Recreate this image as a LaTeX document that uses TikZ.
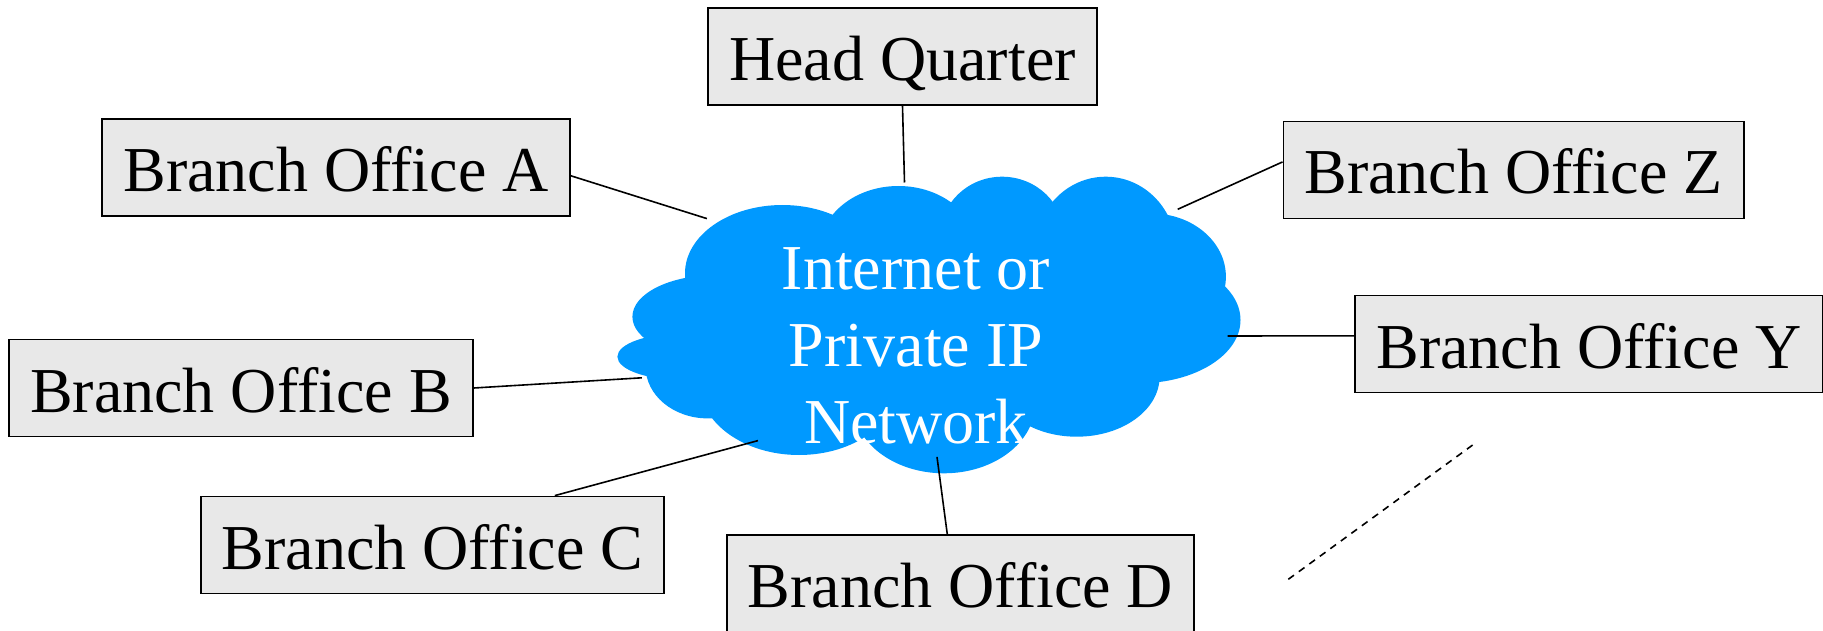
\documentclass[tikz,border=0pt]{standalone}
\usepackage{fontspec}
\setmainfont{Liberation Serif}
\usepackage{xcolor}
\usepackage{tikz}
\definecolor{cloudblue}{RGB}{0,153,255}
\definecolor{officegray}{RGB}{232,232,232}

\begin{document}
\begin{tikzpicture}[x=1pt, y=-1pt,
    office/.style={rectangle, draw=black, line width=1.8pt, fill=officegray, minimum height=97pt,
                   inner xsep=21pt, text height=48pt, text depth=0pt, font=\fontsize{64}{77}\selectfont},
    nettext/.style={text=white, align=center, font=\fontsize{64}{77}\selectfont},
    link/.style={line width=1.6pt}
]
\useasboundingbox (0,0) rectangle (1823,631);

% Cloud - built from overlapping puffs
\fill[cloudblue] (931.6,316.7) ellipse (207 and 100);
\fill[cloudblue] (782.4,273.3) ellipse (97.4 and 68.3);
\fill[cloudblue] (898.4,250) ellipse (78.8 and 64);
\fill[cloudblue] (1002.1,236.7) ellipse (62.2 and 60);
\fill[cloudblue] (1105.7,250) ellipse (70.5 and 73.3);
\fill[cloudblue] (1151.3,276.7) ellipse (74.6 and 63.3);
\fill[cloudblue] (1138.9,320) ellipse (101.6 and 63.3);
\fill[cloudblue] (1076.7,376.7) ellipse (82.9 and 60);
\fill[cloudblue] (944,403.3) ellipse (91.2 and 70);
\fill[cloudblue] (799,383.3) ellipse (99.5 and 71.7);
\fill[cloudblue] (707.8,366.7) ellipse (62.2 and 51.7);
\fill[cloudblue] (682.9,356.7) ellipse (65.5 and 23.3);
\fill[cloudblue] (716.1,316.7) ellipse (83.7 and 41.7);

\node[nettext] (net) at (916,346) {Internet or\\Private IP\\Network};

% Points on the cloud edge
\coordinate (eHQ) at (904.5,182.5);
\coordinate (eA) at (706.9,218.6);
\coordinate (eZ) at (1177.7,209.3);
\coordinate (eY) at (1227.7,336);
\coordinate (eB) at (641.8,377.8);
\coordinate (eC) at (758,440.6);
\coordinate (eD) at (937,456.9);

% Sites
\node[office] (hq) at (902.5,56.5) {Head Quarter};
\node[office] (boA) at (336,167.5) {Branch Office A};
\node[office] (boZ) at (1513.5,170) {Branch Office Z};
\node[office] (boY) at (1589,344) {Branch Office Y};
\node[office] (boB) at (241,388) {Branch Office B};
\node[office] (boC) at (432.5,545) {Branch Office C};
\node[office] (boD) at (960.5,583.5) {Branch Office D};

% Links
\draw[link] (hq.south) -- (eHQ);
\draw[link] (boA.-2) -- (eA);
\draw[link] (boZ.178) -- (eZ);
\draw[link] (boY.178) -- (eY);
\draw[link] (boB.east) -- (eB);
\draw[link] (boC.22) -- (eC);
\draw[link] (boD.105) -- (eD);

% More offices
\coordinate (moreA) at (1288.3,579.3);
\coordinate (moreB) at (1475,443.3);
\draw[link, dash pattern=on 7pt off 6pt] (moreA) -- (moreB);

\end{tikzpicture}
\end{document}
